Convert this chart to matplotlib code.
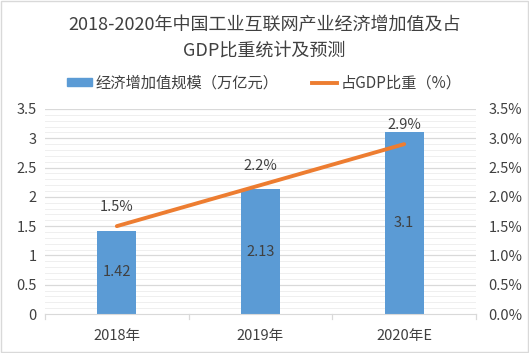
import numpy as np
import matplotlib
matplotlib.use("Agg")
import matplotlib.pyplot as plt
from matplotlib.patches import Rectangle
from matplotlib.lines import Line2D

plt.rcParams["font.family"] = ["Noto Sans CJK SC", "DejaVu Sans"]

# ======================================================
# Data
# ======================================================
years = ["2018年", "2019年", "2020年E"]
scale_values = [1.42, 2.13, 3.1]          # 经济增加值规模（万亿元）
gdp_share = [1.5, 2.2, 2.9]               # 占GDP比重（%）
left_ticks = [0, 0.5, 1, 1.5, 2, 2.5, 3, 3.5]
left_tick_labels = ["0", "0.5", "1", "1.5", "2", "2.5", "3", "3.5"]
right_tick_labels = ["0.0%", "0.5%", "1.0%", "1.5%", "2.0%", "2.5%", "3.0%", "3.5%"]

BAR_COLOR = "#5B9BD5"
LINE_COLOR = "#ED7D31"
TEXT_COLOR = "#404040"

fig = plt.figure(figsize=(5.29, 3.53), dpi=100)
fig.patch.set_facecolor("white")
fig.patches.append(Rectangle((0.002, 0.002), 0.996, 0.996, transform=fig.transFigure,
                             fill=False, edgecolor="#d9d9d9", linewidth=1))

ax1 = fig.add_axes([45 / 529, 1 - 314 / 353, 431 / 529, 205 / 353])
x = np.arange(len(years))

# gridlines: light minor lines every 0.1, major every 0.5
for v in np.arange(0.1, 3.51, 0.1):
    if abs(v * 2 - round(v * 2)) < 1e-6:
        ax1.axhline(v, color="#d9d9d9", linewidth=0.9, zorder=0)
    else:
        ax1.axhline(v, color="#efefef", linewidth=0.7, zorder=0)

ax1.bar(x, scale_values, width=0.27, color=BAR_COLOR, zorder=2)
for xi, v in zip(x, scale_values):
    ax1.text(xi, v / 2, f"{v:g}", ha="center", va="center", fontsize=10.5,
             color=TEXT_COLOR, zorder=5)

ax1.set_xlim(-0.5, 2.5)
ax1.set_ylim(0, 3.5)
ax1.set_yticks(left_ticks)
ax1.set_yticklabels(left_tick_labels)
ax1.set_xticks(x)
ax1.set_xticklabels(years)
ax1.tick_params(axis="both", length=0, labelsize=10.5, colors=TEXT_COLOR)
ax1.tick_params(axis="x", pad=11)
ax1.tick_params(axis="y", pad=6)
for sp in ["top", "right", "left"]:
    ax1.spines[sp].set_visible(False)
ax1.spines["bottom"].set_color("#d9d9d9")
# category separators on the x axis
for b in [-0.5, 0.5, 1.5, 2.5]:
    ax1.plot([b, b], [0, -0.09], color="#d9d9d9", linewidth=0.9, clip_on=False)

ax2 = ax1.twinx()
ax2.plot(x, gdp_share, color=LINE_COLOR, linewidth=2.8, solid_capstyle="round", zorder=3)
for xi, v in zip(x, gdp_share):
    ax2.text(xi, v + 0.33, f"{v:.1f}%", ha="center", va="center", fontsize=10.5,
             color=TEXT_COLOR)
ax2.set_ylim(0, 3.5)
ax2.set_yticks(left_ticks)
ax2.set_yticklabels(right_tick_labels)
ax2.tick_params(axis="y", length=0, labelsize=10.5, colors=TEXT_COLOR, pad=9)
for sp in ax2.spines.values():
    sp.set_visible(False)

fig.text(0.5, 1 - 25 / 353, "2018-2020年中国工业互联网产业经济增加值及占", ha="center",
         va="center", fontsize=13, color=TEXT_COLOR)
fig.text(0.5, 1 - 51 / 353, "GDP比重统计及预测", ha="center", va="center",
         fontsize=13, color=TEXT_COLOR)

handles = [Rectangle((0, 0), 1, 1, color=BAR_COLOR),
           Line2D([0], [0], color=LINE_COLOR, linewidth=2.8)]
fig.legend(handles, ["经济增加值规模（万亿元）", "占GDP比重（%）"], loc="center",
           bbox_to_anchor=(0.5, 1 - 83 / 353), ncol=2, frameon=False, fontsize=11,
           handlelength=1.6, handleheight=0.35, columnspacing=2.2, handletextpad=0.25,
           labelcolor=TEXT_COLOR)

fig.savefig("out.png", dpi=100)
